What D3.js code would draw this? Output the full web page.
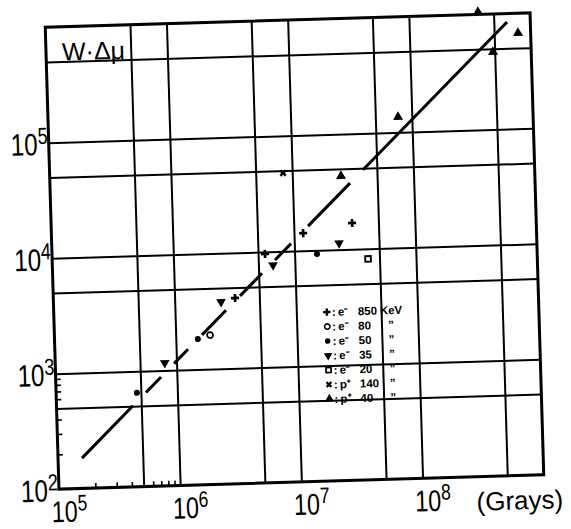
<!DOCTYPE html>
<html>
<head>
<meta charset="utf-8">
<script src="https://cdn.jsdelivr.net/npm/d3@7"></script>
<style>
  body { margin: 0; background: #fff; }
  svg { display: block; }
  text { font-family: "Liberation Sans", Arial, sans-serif; fill: #000; }
</style>
</head>
<body>
<script>
// points: [dose (Gy), W·Δμ]
const e850 = [[3.15e6, 4060], [5.7e6, 9600], [1.19e7, 14200], [3.03e7, 16900]];
const e80 = [[1.92e6, 1970]];
const e50 = [[4.64e5, 650], [1.52e6, 1830], [1.53e7, 9300]];
const e35 = [[8.0e5, 1160], [2.41e6, 3780], [6.6e6, 7650], [2.34e7, 11400]];
const e20 = [[4.02e7, 8170]];
const p140 = [[8.4e6, 47600]];
const p40 = [[2.52e7, 43300], [7.7e7, 136000], [3.72e8, 1.05e6], [4.84e8, 469000], [7.87e8, 675000]];

// the straight fit, broken where it passes the points
const fitPieces = [
  [[1.576e5, 183], [4.27e5, 504]],
  [[5.51e5, 652], [7.39e5, 879]],
  [[9.53e5, 1138], [1.253e6, 1502]],
  [[1.648e6, 1984], [2.636e6, 3195]],
  [[3.467e6, 4221], [5.333e6, 6535]],
  [[6.871e6, 8446], [9.397e6, 11606]],
  [[1.312e7, 16290], [2.979e7, 37430]],
  [[3.846e7, 48520], [6.427e8, 845000]]
];

const xDecades = [1e5, 1e6, 1e7, 1e8];
const xExp = ["5", "6", "7", "8"];
const yDecades = [1e2, 1e3, 1e4, 1e5];
const yExp = ["2", "3", "4", "5"];
const xGrid = [5e5, 1e6, 5e6, 1e7, 5e7, 1e8, 5e8];
const yGrid = [5e2, 1e3, 5e3, 1e4, 5e4, 1e5, 5e5];
const xMinor = [2e5, 3e5, 4e5, 6e5, 7e5, 8e5, 9e5];
const yMinor = [200, 300, 400, 600, 700, 800, 900];

const legendParticle = ["e\u207B", "e\u207B", "e\u207B", "e\u207B", "e\u207B", "p\u207A", "p\u207A"];
const legendEnergy = ["850", "80", "50", "35", "20", "140", "40"];
const legendUnit = ["KeV", "\u201D", "\u201D", "\u201D", "\u201D", "\u201D", "\u201D"];

const W = 571, H = 529;
const pLeft = 52, pRight = 537, pTop = 20, pBottom = 482;

const svg = d3.select("body").append("svg")
  .attr("width", W)
  .attr("height", H);

svg.append("rect").attr("width", W).attr("height", H).attr("fill", "#fff");

// the scan sits a little crooked on the page
const g = svg.append("g")
  .attr("transform", "rotate(-1.7, 294.5, 251)");

const x = d3.scaleLog().domain([1e5, 1e9]).range([pLeft, pRight]);
const y = d3.scaleLog().domain([1e2, 1e6]).range([pBottom, pTop]);

// grid
g.append("g")
  .attr("transform", `translate(0,${pBottom})`)
  .call(d3.axisBottom(x).tickValues(xGrid).tickSize(-(pBottom - pTop)).tickFormat(""))
  .call(a => a.select(".domain").remove())
  .call(a => a.selectAll("line").attr("stroke", "#000").attr("stroke-width", 2));

g.append("g")
  .attr("transform", `translate(${pLeft},0)`)
  .call(d3.axisLeft(y).tickValues(yGrid).tickSize(-(pRight - pLeft)).tickFormat(""))
  .call(a => a.select(".domain").remove())
  .call(a => a.selectAll("line").attr("stroke", "#000").attr("stroke-width", 2));

// small inside ticks in the first decade
g.append("g")
  .attr("transform", `translate(0,${pBottom})`)
  .call(d3.axisBottom(x).tickValues(xMinor).tickSize(-5).tickFormat(""))
  .call(a => a.select(".domain").remove())
  .call(a => a.selectAll("line").attr("stroke", "#000").attr("stroke-width", 1.6));

g.append("g")
  .attr("transform", `translate(${pLeft},0)`)
  .call(d3.axisLeft(y).tickValues(yMinor).tickSize(-5).tickFormat(""))
  .call(a => a.select(".domain").remove())
  .call(a => a.selectAll("line").attr("stroke", "#000").attr("stroke-width", 1.6));

// frame
g.append("rect")
  .attr("x", pLeft).attr("y", pTop)
  .attr("width", pRight - pLeft).attr("height", pBottom - pTop)
  .attr("fill", "none").attr("stroke", "#000").attr("stroke-width", 3);

// fit line
const line = d3.line().x(d => x(d[0])).y(d => y(d[1]));
g.selectAll("path.fit")
  .data(fitPieces)
  .enter().append("path")
  .attr("class", "fit")
  .attr("d", line)
  .attr("fill", "none")
  .attr("stroke", "#000")
  .attr("stroke-width", 3);

// markers
function symbolPath(type, size) {
  return d3.symbol().type(type).size(size)();
}

const series = [
  { data: e850, kind: "plus" },
  { data: e80, kind: "ring" },
  { data: e50, kind: "dot" },
  { data: e35, kind: "down" },
  { data: e20, kind: "square" },
  { data: p140, kind: "cross" },
  { data: p40, kind: "up" }
];

function drawMarker(sel, kind) {
  if (kind === "ring") {
    sel.append("circle").attr("r", 3).attr("fill", "#fff").attr("stroke", "#000").attr("stroke-width", 1.7);
  } else if (kind === "dot") {
    sel.append("circle").attr("r", 3).attr("fill", "#000");
  } else if (kind === "square") {
    sel.append("rect").attr("x", -2.8).attr("y", -2.8).attr("width", 5.6).attr("height", 5.6)
      .attr("fill", "#fff").attr("stroke", "#000").attr("stroke-width", 1.9);
  } else if (kind === "plus") {
    sel.append("path").attr("d", symbolPath(d3.symbolCross, 36)).attr("fill", "#000");
  } else if (kind === "cross") {
    sel.append("path").attr("d", symbolPath(d3.symbolCross, 32)).attr("transform", "rotate(45)").attr("fill", "#000");
  } else if (kind === "down") {
    sel.append("path").attr("d", symbolPath(d3.symbolTriangle, 40)).attr("transform", "rotate(180)").attr("fill", "#000");
  } else if (kind === "up") {
    sel.append("path").attr("d", symbolPath(d3.symbolTriangle, 44)).attr("fill", "#000");
  }
}

series.forEach(s => {
  g.selectAll(null)
    .data(s.data)
    .enter().append("g")
    .attr("transform", d => `translate(${x(d[0])},${y(d[1])})`)
    .each(function() { drawMarker(d3.select(this), s.kind); });
});

// tick labels with superscript powers, narrow lettering
function powerLabel(parent, px, py, exp, anchor, size) {
  const t = parent.append("g")
    .attr("transform", `translate(${px},${py}) scale(0.78,1)`)
    .append("text")
    .attr("text-anchor", anchor)
    .style("font-size", size + "px");
  t.append("tspan").text("10");
  t.append("tspan").attr("dy", -11).style("font-size", (size * 0.75) + "px").text(exp);
}

xDecades.forEach((v, i) => powerLabel(g, x(v) - 8, pBottom + 33, xExp[i], "start", 30));
yDecades.forEach((v, i) => powerLabel(g, pLeft - 1, y(v) + 12, yExp[i], "end", 31));

g.append("text")
  .attr("x", 469).attr("y", pBottom + 34)
  .style("font-size", "26px")
  .text("(Grays)");

g.append("text")
  .attr("x", 68).attr("y", y(5e5) - 1)
  .style("font-size", "25px")
  .text("W\u00B7\u0394\u03BC");

// legend
const lg = g.append("g").attr("transform", "translate(325,317)");
const rowH = 14.5;
series.forEach((s, i) => {
  const row = lg.append("g").attr("transform", `translate(0,${i * rowH})`);
  drawMarker(row.append("g").attr("transform", "translate(0,-4) scale(0.9)"), s.kind);
  const t = row.append("text").style("font-size", "11.5px").style("font-weight", "bold");
  t.append("tspan").attr("x", 5).text(":");
  t.append("tspan").attr("x", 11).text(legendParticle[i]);
  t.append("tspan").attr("x", 31).text(legendEnergy[i]);
  t.append("tspan").attr("x", i === 0 ? 53 : 61).text(legendUnit[i]);
});
</script>
</body>
</html>
